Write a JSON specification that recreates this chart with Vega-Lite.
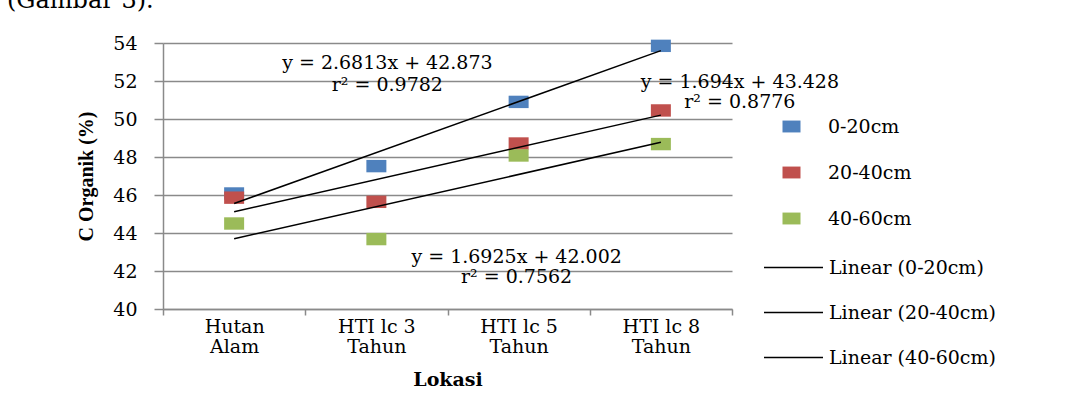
{
  "$schema": "https://vega.github.io/schema/vega-lite/v6.json",
  "width": 569,
  "height": 266,
  "autosize": {"type": "none"},
  "padding": {"left": 163, "top": 43, "right": 359, "bottom": 106},
  "background": "white",
  "config": {"view": {"stroke": null}, "font": "DejaVu Serif"},
  "title": {"text": "(Gambar 3).", "anchor": "start", "frame": "group", "dx": -156, "offset": 2, "font": "DejaVu Serif", "fontSize": 24, "fontWeight": "normal", "color": "black", "baseline": "alphabetic"},
  "datasets": {
    "points": [
      {"lokasi": "Hutan Alam", "kedalaman": "0-20cm", "c": 46.08},
      {"lokasi": "HTI lc 3 Tahun", "kedalaman": "0-20cm", "c": 47.52},
      {"lokasi": "HTI lc 5 Tahun", "kedalaman": "0-20cm", "c": 50.9},
      {"lokasi": "HTI lc 8 Tahun", "kedalaman": "0-20cm", "c": 53.85},
      {"lokasi": "Hutan Alam", "kedalaman": "20-40cm", "c": 45.86},
      {"lokasi": "HTI lc 3 Tahun", "kedalaman": "20-40cm", "c": 45.64},
      {"lokasi": "HTI lc 5 Tahun", "kedalaman": "20-40cm", "c": 48.71},
      {"lokasi": "HTI lc 8 Tahun", "kedalaman": "20-40cm", "c": 50.45},
      {"lokasi": "Hutan Alam", "kedalaman": "40-60cm", "c": 44.5},
      {"lokasi": "HTI lc 3 Tahun", "kedalaman": "40-60cm", "c": 43.68},
      {"lokasi": "HTI lc 5 Tahun", "kedalaman": "40-60cm", "c": 48.08},
      {"lokasi": "HTI lc 8 Tahun", "kedalaman": "40-60cm", "c": 48.68}
    ],
    "trend": [
      {"lokasi": "Hutan Alam", "garis": "Linear (0-20cm)", "c": 45.554},
      {"lokasi": "HTI lc 8 Tahun", "garis": "Linear (0-20cm)", "c": 53.598},
      {"lokasi": "Hutan Alam", "garis": "Linear (20-40cm)", "c": 45.122},
      {"lokasi": "HTI lc 8 Tahun", "garis": "Linear (20-40cm)", "c": 50.204},
      {"lokasi": "Hutan Alam", "garis": "Linear (40-60cm)", "c": 43.695},
      {"lokasi": "HTI lc 8 Tahun", "garis": "Linear (40-60cm)", "c": 48.772}
    ],
    "notes": [
      {"lokasi": "HTI lc 3 Tahun", "c": 52.93, "teks": "y = 2.6813x + 42.873"},
      {"lokasi": "HTI lc 3 Tahun", "c": 51.79, "teks": "r² = 0.9782"},
      {"lokasi": "HTI lc 8 Tahun", "c": 51.95, "teks": "y = 1.694x + 43.428"},
      {"lokasi": "HTI lc 8 Tahun", "c": 50.9, "teks": "r² = 0.8776"},
      {"lokasi": "HTI lc 5 Tahun", "c": 42.75, "teks": "y = 1.6925x + 42.002"},
      {"lokasi": "HTI lc 5 Tahun", "c": 41.7, "teks": "r² = 0.7562"}
    ]
  },
  "encoding": {
    "x": {
      "field": "lokasi", "type": "nominal",
      "sort": ["Hutan Alam", "HTI lc 3 Tahun", "HTI lc 5 Tahun", "HTI lc 8 Tahun"],
      "scale": {"type": "band", "paddingInner": 0, "paddingOuter": 0},
      "title": "Lokasi",
      "axis": {
        "labelAngle": 0, "tickBand": "extent", "tickSize": 6, "tickColor": "#8a8a8a", "tickWidth": 1.5,
        "domainColor": "#8a8a8a", "domainWidth": 1.5, "grid": false,
        "labelFont": "DejaVu Serif", "labelFontSize": 19, "labelColor": "black", "labelPadding": 2,
        "labelLineHeight": 20, "labelBaseline": "top",
        "labelExpr": "!datum.value ? '' : (datum.value == 'Hutan Alam' ? ['Hutan', 'Alam'] : [replace(datum.value, ' Tahun', ''), 'Tahun'])",
        "titleFont": "DejaVu Serif", "titleFontSize": 19, "titleFontWeight": "bold", "titleColor": "black", "titlePadding": 14
      }
    },
    "y": {
      "field": "c", "type": "quantitative",
      "scale": {"domain": [40, 54], "nice": false, "zero": false},
      "title": "C Organik (%)",
      "axis": {
        "values": [40, 42, 44, 46, 48, 50, 52, 54], "tickSize": 9, "tickColor": "#8a8a8a", "tickWidth": 1.5,
        "domainColor": "#8a8a8a", "domainWidth": 1.5, "gridColor": "#8a8a8a", "gridWidth": 1.5,
        "labelFont": "DejaVu Serif", "labelFontSize": 19, "labelColor": "black", "labelPadding": 17,
        "titleFont": "Liberation Serif", "titleFontSize": 20, "titleFontWeight": "bold", "titleColor": "black", "titlePadding": 16
      }
    }
  },
  "layer": [
    {
      "data": {"name": "points"},
      "mark": {"type": "point", "shape": "M-1,-0.62H1V0.62H-1Z", "filled": true, "opacity": 1, "size": 400, "strokeWidth": 0},
      "encoding": {
        "color": {
          "field": "kedalaman", "type": "nominal",
          "scale": {"domain": ["0-20cm", "20-40cm", "40-60cm"], "range": ["#4F81BD", "#C0504D", "#9BBB59"]},
          "legend": {
            "title": null, "orient": "none", "legendX": 619, "legendY": 74, "padding": 0,
            "symbolType": "M-1,-0.66H1V0.66H-1Z", "symbolSize": 324, "symbolStrokeWidth": 0, "symbolOpacity": 1,
            "labelFont": "DejaVu Serif", "labelFontSize": 19, "labelColor": "black", "labelOffset": 27, "rowPadding": 26
          }
        }
      }
    },
    {
      "data": {"name": "trend"},
      "mark": {"type": "line", "strokeWidth": 1.5},
      "encoding": {
        "stroke": {
          "field": "garis", "type": "nominal",
          "scale": {"domain": ["Linear (0-20cm)", "Linear (20-40cm)", "Linear (40-60cm)"], "range": ["black", "black", "black"]},
          "legend": {
            "title": null, "orient": "none", "legendX": 600, "legendY": 194, "padding": 0,
            "symbolType": "stroke", "symbolSize": 3481, "symbolStrokeWidth": 1.5, "symbolStrokeColor": "black",
            "labelFont": "DejaVu Serif", "labelFontSize": 19, "labelColor": "black", "labelOffset": 5, "rowPadding": 4, "labelLimit": 400
          }
        }
      }
    },
    {
      "data": {"name": "notes"},
      "transform": [{"filter": "datum.lokasi == 'HTI lc 3 Tahun'"}],
      "mark": {"type": "text", "dx": 11, "align": "center", "baseline": "middle", "font": "DejaVu Serif", "fontSize": 19, "color": "black"},
      "encoding": {"text": {"field": "teks"}}
    },
    {
      "data": {"name": "notes"},
      "transform": [{"filter": "datum.lokasi == 'HTI lc 8 Tahun'"}],
      "mark": {"type": "text", "dx": 79, "align": "center", "baseline": "middle", "font": "DejaVu Serif", "fontSize": 19, "color": "black"},
      "encoding": {"text": {"field": "teks"}}
    },
    {
      "data": {"name": "notes"},
      "transform": [{"filter": "datum.lokasi == 'HTI lc 5 Tahun'"}],
      "mark": {"type": "text", "dx": -2, "align": "center", "baseline": "middle", "font": "DejaVu Serif", "fontSize": 19, "color": "black"},
      "encoding": {"text": {"field": "teks"}}
    }
  ]
}
